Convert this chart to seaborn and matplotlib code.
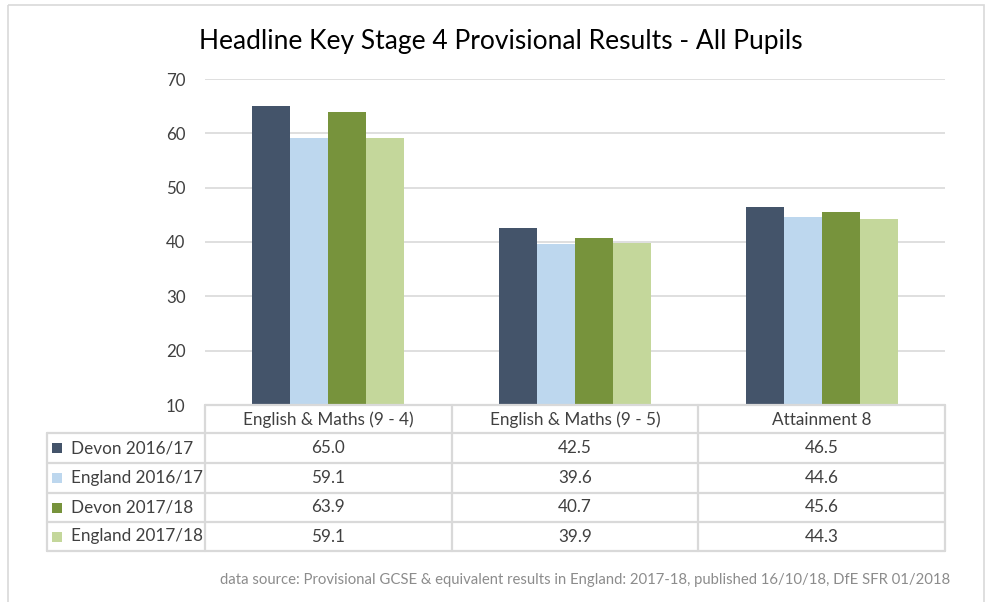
import matplotlib
matplotlib.use("Agg")
import matplotlib.pyplot as plt
from matplotlib.patches import Rectangle
import seaborn as sns
import pandas as pd

categories = ["English & Maths (9 - 4)", "English & Maths (9 - 5)", "Attainment 8"]
series = ["Devon 2016/17", "England 2016/17", "Devon 2017/18", "England 2017/18"]
devon_1617 = [65.0, 42.5, 46.5]
england_1617 = [59.1, 39.6, 44.6]
devon_1718 = [63.9, 40.7, 45.6]
england_1718 = [59.1, 39.9, 44.3]
colors = ["#44546A", "#BDD7EE", "#77933C", "#C4D79B"]
yticks = [10, 20, 30, 40, 50, 60, 70]
title = "Headline Key Stage 4 Provisional Results - All Pupils"
footer = ("data source: Provisional GCSE & equivalent results in England: 2017-18, "
          "published 16/10/18, DfE SFR 01/2018")

values = [devon_1617, england_1617, devon_1718, england_1718]
rows = []
for s, vals in zip(series, values):
    for c, v in zip(categories, vals):
        rows.append({"Category": c, "Series": s, "Value": v})
df = pd.DataFrame(rows)

sns.set_theme(style="white")
plt.rcParams["font.family"] = ["Lato", "DejaVu Sans"]

W, H = 988, 602
fig = plt.figure(figsize=(W / 100, H / 100), dpi=100)

# pixel layout
ax_l, ax_r, ax_t, ax_b = 205, 945, 79, 405
ax = fig.add_axes([ax_l / W, 1 - ax_b / H, (ax_r - ax_l) / W, (ax_b - ax_t) / H])
sns.barplot(data=df, x="Category", y="Value", hue="Series", order=categories,
            hue_order=series, palette=colors, width=0.615, saturation=1,
            edgecolor="none", linewidth=0, ax=ax, legend=False)
ax.set_ylim(10, 70)
ax.set_xlim(-0.5, 2.5)
ax.set_yticks(yticks)
ax.set_yticklabels([str(t) for t in yticks], fontsize=12.2, color="#404040")
ax.set_xticks([])
ax.set_xlabel("")
ax.set_ylabel("")
ax.tick_params(axis="y", length=0, pad=14)
for sp in ax.spines.values():
    sp.set_visible(False)
ax.grid(axis="y", color="#D9D9D9", linewidth=1.2)
ax.set_axisbelow(True)

# overlay in pixel coordinates
ov = fig.add_axes([0, 0, 1, 1], facecolor="none")
ov.set_xlim(0, W)
ov.set_ylim(H, 0)
ov.axis("off")

# outer chart border
ov.add_patch(Rectangle((8, 5), 976, 600, fill=False, edgecolor="#D9D9D9", linewidth=1.2))

ov.text(501, 42, title, ha="center", va="center", fontsize=19, color="#000000")

# data table
line_c = "#D9D9D9"
lw = 1.6
col_w = (ax_r - ax_l) / len(categories)
col_edges = [ax_l + i * col_w for i in range(len(categories) + 1)]
left_x = 47
hdr_top, hdr_bot = 405, 433
row_edges = [433, 463, 493, 522, 551]

ov.plot([ax_l, ax_r], [hdr_top, hdr_top], color=line_c, lw=lw)
for x in col_edges:
    ov.plot([x, x], [hdr_top, row_edges[-1]], color=line_c, lw=lw)
ov.plot([left_x, left_x], [row_edges[0], row_edges[-1]], color=line_c, lw=lw)
for y in row_edges:
    ov.plot([left_x, ax_r], [y, y], color=line_c, lw=lw)

for i, c in enumerate(categories):
    ov.text((col_edges[i] + col_edges[i + 1]) / 2, (hdr_top + hdr_bot) / 2 + 1, c,
            ha="center", va="center", fontsize=12.3, color="#404040")

for r, (s, vals, col) in enumerate(zip(series, values, colors)):
    yc = (row_edges[r] + row_edges[r + 1]) / 2
    ov.add_patch(Rectangle((52, yc - 5), 10, 10, facecolor=col, edgecolor="none"))
    ov.text(71, yc, s, ha="left", va="center", fontsize=12.3, color="#404040")
    for i, v in enumerate(vals):
        ov.text((col_edges[i] + col_edges[i + 1]) / 2, yc, f"{v:.1f}",
                ha="center", va="center", fontsize=12.3, color="#404040")

ov.text(950, 580, footer, ha="right", va="center", fontsize=10.7, color="#8C8C8C")

fig.savefig("out.png", dpi=100)
